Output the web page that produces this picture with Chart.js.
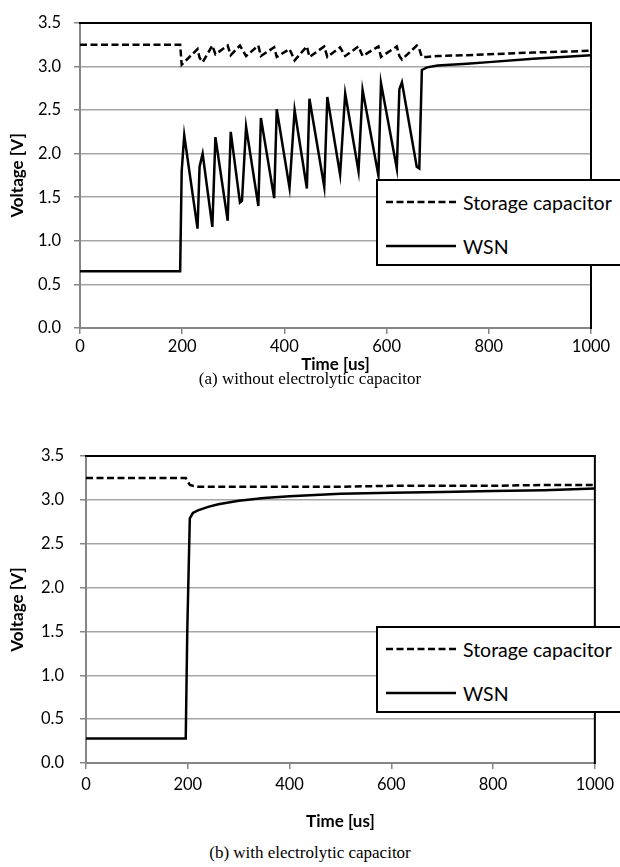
<!DOCTYPE html>
<html>
<head>
<meta charset="utf-8">
<script src="https://cdn.jsdelivr.net/npm/chart.js@4.4.0/dist/chart.umd.min.js"></script>
<style>
body { margin: 0; background: #fff; width: 620px; height: 867px; position: relative; overflow: hidden; font-family: Lato, sans-serif; }
canvas { position: absolute; left: 0; }
.cap { position: absolute; left: 0; width: 620px; text-align: center; font-family: "Liberation Serif", serif; font-size: 17px; line-height: 20px; }
.legend { position: absolute; left: 376px; width: 270px; height: 87px; border: 2px solid #000; background: #fff; box-sizing: border-box; }
.row { position: absolute; left: 8px; height: 24px; display: flex; align-items: center; font-size: 19.5px; white-space: nowrap; }
.row svg { margin-right: 7px; }
</style>
</head>
<body>
<canvas id="chartA" width="620" height="388" style="top:0"></canvas>
<div class="cap" style="top:369px">(a) without electrolytic capacitor</div>
<div class="legend" style="top:179px">
  <div class="row" style="top:9px"><svg width="70" height="4"><line x1="0" y1="2" x2="70" y2="2" stroke="#000" stroke-width="2.5" stroke-dasharray="7,3.5"/></svg>Storage capacitor</div>
  <div class="row" style="top:53px"><svg width="70" height="4"><line x1="0" y1="2" x2="70" y2="2" stroke="#000" stroke-width="2.5"/></svg>WSN</div>
</div>

<canvas id="chartB" width="620" height="420" style="top:420px"></canvas>
<div class="cap" style="top:843px">(b) with electrolytic capacitor</div>
<div class="legend" style="top:626px">
  <div class="row" style="top:9px"><svg width="70" height="4"><line x1="0" y1="2" x2="70" y2="2" stroke="#000" stroke-width="2.5" stroke-dasharray="7,3.5"/></svg>Storage capacitor</div>
  <div class="row" style="top:53px"><svg width="70" height="4"><line x1="0" y1="2" x2="70" y2="2" stroke="#000" stroke-width="2.5"/></svg>WSN</div>
</div>

<script>
// (a) without electrolytic capacitor
var timeA = [0, 196, 199, 204, 230, 234, 240, 259, 265, 289, 295, 313, 317, 325, 349, 354, 380, 385, 410, 420,
  444, 449, 478, 484, 509, 519, 545, 553, 584, 589, 620, 625, 630, 659, 664, 669, 679, 700, 757, 800, 887, 1000];
var wsnA = [0.65, 0.65, 1.80, 2.21, 1.14, 1.85, 2.00, 1.16, 2.19, 1.23, 2.25, 1.44, 1.46, 2.31, 1.40, 2.41, 1.49, 2.51, 1.61, 2.50,
  1.60, 2.63, 1.62, 2.65, 1.76, 2.69, 1.80, 2.73, 1.75, 2.81, 1.83, 2.74, 2.82, 1.85, 1.83, 2.96, 2.99, 3.01, 3.03, 3.05, 3.09, 3.13];
var storA = [3.25, 3.25, 3.02, 3.05, 3.20, 3.10, 3.05, 3.24, 3.14, 3.24, 3.13, 3.24, 3.20, 3.12, 3.24, 3.12, 3.22, 3.11, 3.20, 3.07,
  3.23, 3.11, 3.23, 3.11, 3.22, 3.12, 3.23, 3.12, 3.23, 3.11, 3.23, 3.12, 3.08, 3.24, 3.20, 3.11, 3.11, 3.12, 3.13, 3.14, 3.16, 3.18];

// (b) with electrolytic capacitor
var timeB = [0, 100, 196, 199, 204, 210, 220, 240, 260, 300, 350, 400, 500, 600, 700, 800, 900, 1000];
var wsnB = [0.28, 0.28, 0.28, 1.50, 2.79, 2.85, 2.88, 2.92, 2.95, 2.99, 3.02, 3.04, 3.07, 3.08, 3.09, 3.10, 3.11, 3.13];
var storB = [3.25, 3.25, 3.25, 3.22, 3.17, 3.16, 3.15, 3.15, 3.15, 3.15, 3.15, 3.15, 3.15, 3.16, 3.16, 3.16, 3.17, 3.17];

var seriesNames = ['Storage capacitor', 'WSN'];
var xTitle = 'Time [us]';
var yTitle = 'Voltage [V]';

var frame = {
  id: 'frame',
  afterDraw: function (chart) {
    var a = chart.chartArea, ctx = chart.ctx;
    ctx.save();
    ctx.strokeStyle = '#000';
    ctx.lineWidth = 2;
    ctx.beginPath();
    ctx.moveTo(a.left - 1, a.top);
    ctx.lineTo(a.right, a.top);
    ctx.lineTo(a.right, a.bottom + 1);
    ctx.stroke();
    ctx.restore();
  }
};

function points(t, v) {
  return t.map(function (x, i) { return { x: x, y: v[i] }; });
}

function makeChart(id, t, wsn, stor, d) {
  return new Chart(document.getElementById(id), {
    type: 'line',
    data: {
      datasets: [{
        label: seriesNames[0],
        data: points(t, stor),
        borderColor: '#000',
        borderWidth: 2.5,
        borderDash: [7, 3.5],
        pointRadius: 0,
        tension: 0
      }, {
        label: seriesNames[1],
        data: points(t, wsn),
        borderColor: '#000',
        borderWidth: 2.5,
        pointRadius: 0,
        tension: 0
      }]
    },
    options: {
      responsive: false,
      animation: false,
      layout: { padding: { top: d.padTop, right: d.padRight, left: 0, bottom: 0 } },
      plugins: { legend: { display: false }, tooltip: { enabled: false } },
      scales: {
        x: {
          type: 'linear',
          min: 0, max: 1000,
          afterFit: function (s) { s.height = d.xH; },
          ticks: { stepSize: 200, padding: d.xPad, color: '#000', font: { family: 'Lato', size: 16.5 }, maxRotation: 0,
            callback: function (v) { return String(v); } },
          grid: { drawOnChartArea: false, drawTicks: true, tickLength: 6, color: '#868686', lineWidth: 1.5 },
          border: { color: '#868686', width: 2 },
          title: { display: true, text: xTitle, color: '#000', font: { family: 'Lato', size: 17, weight: 'bold' }, padding: { top: 0, bottom: d.xTitlePad } }
        },
        y: {
          min: 0, max: 3.5,
          afterFit: function (s) { s.width = d.yW; },
          ticks: { stepSize: 0.5, padding: d.yPad, color: '#000', font: { family: 'Lato', size: 16.5 },
            callback: function (v) { return v.toFixed(1); } },
          grid: { color: '#a6a6a6', lineWidth: 1.5, tickLength: 6, tickColor: '#868686' },
          border: { color: '#868686', width: 2 },
          title: { display: true, text: yTitle, color: '#000', font: { family: 'Lato', size: 17, weight: 'bold' }, padding: { top: 7, bottom: 0 } }
        }
      }
    },
    plugins: [frame]
  });
}

makeChart('chartA', timeA, wsnA, storA, { padTop: 17, padRight: 29, xH: 60, yW: 80, xPad: 3, yPad: 13, xTitlePad: 13 });
makeChart('chartB', timeB, wsnB, storB, { padTop: 36, padRight: 24, xH: 77, yW: 86, xPad: 6, yPad: 16, xTitlePad: 8 });
</script>
</body>
</html>
